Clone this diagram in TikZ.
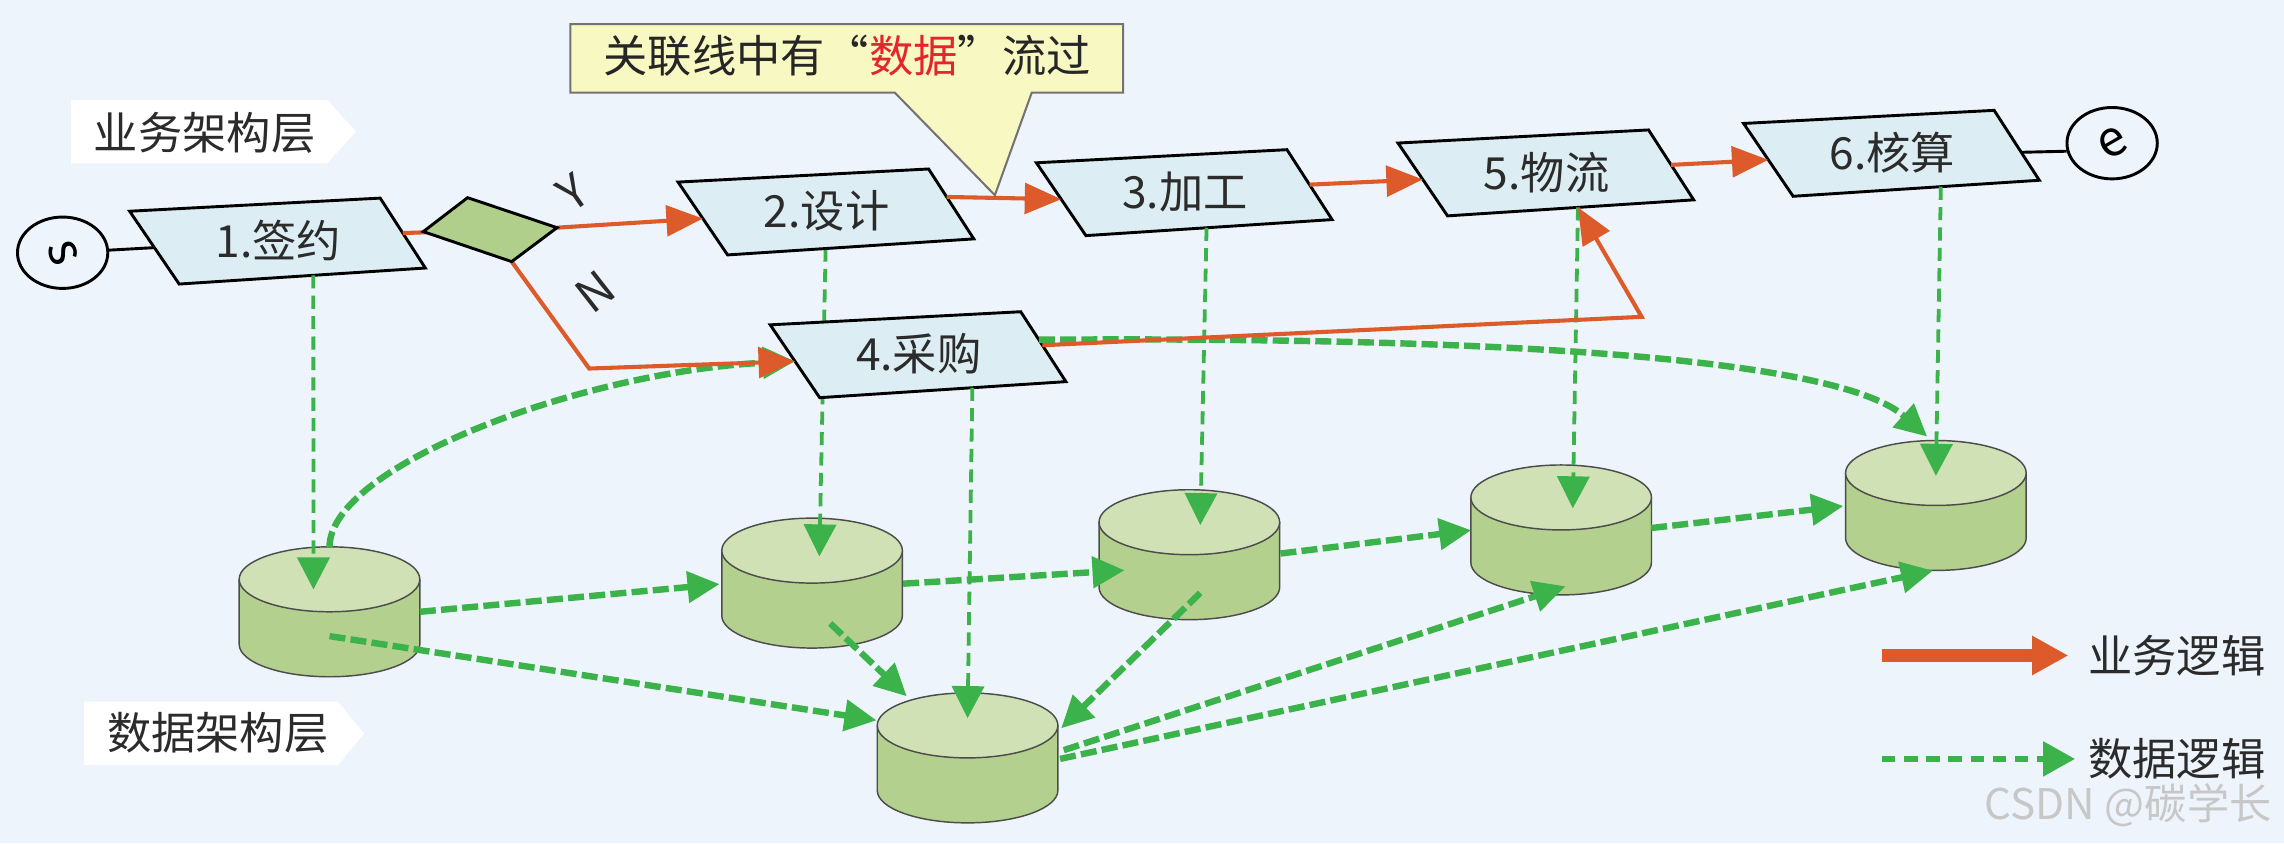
\documentclass[tikz,border=0pt]{standalone}
\usepackage{fontspec}
\setmainfont{Noto Sans CJK SC}
\usetikzlibrary{arrows.meta,calc,shapes.geometric}

\definecolor{bgblue}{HTML}{EEF4FB}
\definecolor{procfill}{HTML}{DCEEF3}
\definecolor{gatefill}{HTML}{AFCF8B}
\definecolor{dbtop}{HTML}{D0E1B6}
\definecolor{dbbody}{HTML}{B3D08E}
\definecolor{floworange}{HTML}{DD5A2A}
\definecolor{datagreen}{HTML}{3BB34A}
\definecolor{noteyellow}{HTML}{F8F8C2}
\definecolor{inkgray}{HTML}{2B2B2B}
\definecolor{hlred}{HTML}{E3262B}

\tikzset{
  cjk/.style={font=\fontsize{15.2}{18}\selectfont, text=inkgray, inner sep=0pt},
  procshape/.style={draw=black, line width=1pt, fill=procfill, line join=miter},
  bizline/.style={draw=floworange, line width=1.4pt},
  bizflow/.style={bizline, -{Triangle[length=12.5pt,width=10.5pt]}},
  datathin/.style={draw=datagreen, line width=1.3pt, dash pattern=on 4.5pt off 2.5pt,
    -{Triangle[length=11pt,width=11pt]}},
  datathick/.style={draw=datagreen, line width=2.2pt, dash pattern=on 5.5pt off 1.8pt,
    -{Triangle[length=11pt,width=10.5pt]}},
  dbline/.style={draw=black!70, line width=0.5pt},
  terminal/.style={ellipse, draw=black, line width=1pt, inner sep=0pt,
    minimum width=31pt, minimum height=24.5pt},
  termletter/.style={font=\fontsize{17}{19}\selectfont, inner sep=0pt},
  branch/.style={font=\fontsize{16}{18}\selectfont, text=inkgray, inner sep=0pt},
  layerlabel/.style={fill=white},
}

% process step: slanted box around (x,y) with corner and side coordinates
\newcommand\procbox[4]{%
  \begin{scope}[shift={(#2,#3)}]
    \draw[procshape] (-102,-20) coordinate (#1-tl) -- (70,-29) coordinate (#1-tr)
      -- (101,19) coordinate (#1-br) -- (-68,30) coordinate (#1-bl) -- cycle;
    \coordinate (#1-l) at (-85,5);
    \coordinate (#1-r) at (85.5,-5);
    \node[cjk] (#1) at (0,0) {#4};
  \end{scope}}

% data store: cylinder whose top face is centred at (x,y)
\newcommand\datastore[3]{%
  \begin{scope}[shift={(#2,#3)}]
    \fill[dbbody] (-62,0) -- (-62,44.6)
      arc[start angle=180, end angle=0, x radius=62, y radius=22.3] -- (62,0) -- cycle;
    \draw[dbline] (-62,0) -- (-62,44.6)
      arc[start angle=180, end angle=0, x radius=62, y radius=22.3] -- (62,0);
    \filldraw[dbline, fill=dbtop] (0,0) ellipse[x radius=62, y radius=22.3];
    \coordinate (#1) at (0,0);
  \end{scope}}

\begin{document}
\begin{tikzpicture}[x=0.5pt, y=-0.5pt]
  \useasboundingbox (0,0) rectangle (1568,579);
  \fill[bgblue] (0,0) rectangle (1568,579);

  % layer tags
  \fill[layerlabel] (48.9,68.6) -- (224.8,68.6) -- (244.3,90.4) -- (224.8,112.1) -- (48.9,112.1) -- cycle;
  \node[cjk] (bizlayer) at (140.5,91) {业务架构层};
  \fill[layerlabel] (57.8,481.7) -- (232,481.7) -- (250,503.5) -- (232,525.2) -- (57.8,525.2) -- cycle;
  \node[cjk] (datalayer) at (149.5,503.3) {数据架构层};

  % data stores
  \datastore{c1}{226.2}{397.7}
  \datastore{c2}{557.5}{378}
  \datastore{c3}{816.5}{358.5}
  \datastore{c4}{1071.75}{341.5}
  \datastore{c5}{1329}{324.7}
  \datastore{c6}{664.25}{498}

  % step anchors used before the boxes are drawn
  \coordinate (p2-tl) at (465.5,125);
  \coordinate (p2-bl) at (499,175);
  \coordinate (p2-br) at (668.5,164);

  % design data passes behind the purchasing box
  \draw[datathin] ($(p2-bl)!0.4!(p2-br)$) -- ($(c2)+(5,4)$);

  % business flow
  \coordinate (nbend) at (404.5,253);
  \coordinate (pbend) at (1127,217.5);

  \procbox{p1}{191}{165}{1.签约}
  \procbox{p3}{813.5}{131.75}{3.加工}
  \procbox{p4}{630.75}{243}{4.采购}
  \procbox{p5}{1061.75}{118.2}{5.物流}
  \procbox{p6}{1299}{104.75}{6.核算}
  \procbox{p2}{567.5}{145}{2.设计}

  % data flow from steps to stores
  \draw[datathin] ($(p1-bl)!0.545!(p1-br)$) -- ($(c1)+(-11,7)$);
  \draw[datathin] ($(p4-bl)!0.62!(p4-br)$) -- ($(c6)+(0,-5)$);
  \draw[datathin] ($(p3-bl)!0.49!(p3-br)$) -- ($(c3)+(7.5,2)$);
  \draw[datathin] ($(p5-bl)!0.53!(p5-br)$) -- ($(c4)+(8,7.5)$);
  \draw[datathin] ($(p6-bl)!0.6!(p6-br)$) -- ($(c5)+(0,2)$);

  % data flow between stores and steps
  \draw[datathick] ($(c1)+(0,-22)$) .. controls ($(c1)+(0,-78)$) and (400,255) .. (p4-l);
  \draw[datathick] ($(p4-tr)!0.4!(p4-br)$) .. controls (900,232) and (1250,235) .. ($(c5)+(-6,-25)$);
  \draw[datathick] ($(c1)+(62,22.3)$) -- ($(c2)+(-63.5,23)$);
  \draw[datathick] ($(c1)+(0,39)$) -- ($(c6)+(-62.5,-3.5)$);
  \draw[datathick] ($(c2)+(62.5,22.7)$) -- ($(c3)+(-44.5,33)$);
  \draw[datathick] ($(c2)+(12.5,50)$) -- ($(c6)+(-41.75,-20)$);
  \draw[datathick] ($(c3)+(62.5,21.5)$) -- ($(c4)+(-61.75,22.5)$);
  \draw[datathick] ($(c3)+(7.5,48.5)$) -- ($(c6)+(64.25,2)$);
  \draw[datathick] ($(c4)+(61.75,21)$) -- ($(c5)+(-63.5,22.7)$);
  \draw[datathick] ($(c6)+(66,17)$) -- ($(c4)+(3,61)$);
  \draw[datathick] ($(c6)+(63.5,23)$) -- ($(c5)+(-2,67)$);

  % business flow between steps
  \draw[bizline] (p1-r) -- (336,158);
  \draw[bizflow] (382.4,156.3) -- (p2-l);
  \draw[bizflow] (351.3,179.6) -- (nbend) -- (p4-l);
  \draw[bizflow] ($(p2-tr)!0.4!(p2-br)$) -- (p3-l);
  \draw[bizflow] (p3-r) -- (p5-l);
  \draw[bizflow] (p5-r) -- (p6-l);
  \draw[bizflow] ($(p4-tr)!0.48!(p4-br)$) -- (pbend) -- ($(p5-bl)!0.53!(p5-br)$);

  % decision gate
  \draw[draw=black, line width=1pt, fill=gatefill, line join=miter]
    (290.6,159) coordinate (gl) -- (321,135.7) coordinate (gt)
    -- (382.4,156.3) coordinate (gr) -- (351.3,179.6) coordinate (gb) -- cycle;
  \node[branch, rotate=35] (ylab) at (393.6,132) {Y};
  \node[branch, rotate=38] (nlab) at (408.5,200) {N};

  % start and end
  \node[terminal] (s) at (43,173.5) {};
  \node[termletter, rotate=-70] (sletter) at (s) {s};
  \node[terminal] (e) at (1450,98.3) {};
  \node[termletter, rotate=30] (eletter) at (e) {e};
  \draw[line width=1pt] (s) -- (p1-l);
  \draw[line width=1pt] ($(p6-tr)!0.6!(p6-br)$) -- (e.190);

  % note on the connector
  \filldraw[fill=noteyellow, draw=black!55, line width=0.7pt, line join=miter]
    (391.5,16.5) -- (771,16.5) -- (771,63.6) -- (708.3,63.6) -- (683,134)
    -- (614.3,63.6) -- (391.5,63.6) -- cycle;
  \node[cjk, text=black!85] (note) at (581.5,38.5)
    {关联线中有\makebox[1em][r]{“}\textcolor{hlred}{数据}\makebox[1em][l]{”}流过};

  % legend
  \coordinate (lgbiz) at (1292,450);
  \coordinate (lgbizend) at (1420,450);
  \draw[floworange, line width=4.7pt, -{Triangle[length=12.5pt,width=12.7pt]}] (lgbiz) -- (lgbizend);
  \node[cjk] (lgbiztext) at (1494.5,450) {业务逻辑};
  \coordinate (lgdata) at (1292,521);
  \coordinate (lgdataend) at (1424.6,521);
  \draw[datagreen, line width=2.3pt, dash pattern=on 4.6pt off 3pt,
    -{Triangle[length=11pt,width=11.5pt]}] (lgdata) -- (lgdataend);
  \node[cjk] (lgdatatext) at (1494.5,521) {数据逻辑};

  % watermark
  \node[font=\fontsize{14.5}{16}\selectfont, text=black!22, inner sep=0pt] (mark) at (1461,553) {CSDN @碳学长};
\end{tikzpicture}
\end{document}
